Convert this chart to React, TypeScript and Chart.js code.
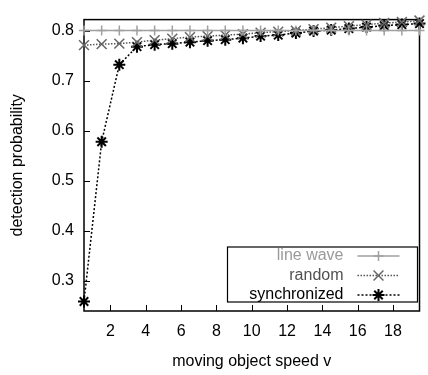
import React, { useEffect, useRef } from "react";
import { Chart, registerables } from "chart.js";

Chart.register(...registerables);

const speeds = [0.5, 1.5, 2.5, 3.5, 4.5, 5.5, 6.5, 7.5, 8.5, 9.5, 10.5, 11.5, 12.5, 13.5, 14.5, 15.5, 16.5, 17.5, 18.5, 19.5];
const lineWave = [0.8, 0.8, 0.8, 0.8, 0.8, 0.8, 0.8, 0.8, 0.8, 0.8, 0.8, 0.8, 0.8, 0.8, 0.8, 0.8, 0.8, 0.8, 0.8, 0.8];
const random = [0.771, 0.773, 0.774, 0.777, 0.781, 0.784, 0.787, 0.789, 0.791, 0.793, 0.796, 0.798, 0.8, 0.803, 0.806, 0.809, 0.812, 0.815, 0.817, 0.82];
const synchronized = [0.259, 0.578, 0.732, 0.768, 0.772, 0.774, 0.777, 0.78, 0.782, 0.785, 0.789, 0.791, 0.795, 0.799, 0.801, 0.804, 0.807, 0.81, 0.812, 0.814];
const xTicks = [2, 4, 6, 8, 10, 12, 14, 16, 18];
const yTicks = [0.3, 0.4, 0.5, 0.6, 0.7, 0.8];

const FONT = "'Liberation Sans', Arial, sans-serif";

const legendColors = ["#9a9a9a", "#505050", "#000000"];

function drawMarker(ctx: CanvasRenderingContext2D, style: string, x: number, y: number, r: number) {
  ctx.beginPath();
  if (style === "cross" || style === "star") {
    ctx.moveTo(x - r, y);
    ctx.lineTo(x + r, y);
    ctx.moveTo(x, y - r);
    ctx.lineTo(x, y + r);
  }
  if (style === "crossRot" || style === "star") {
    const d = r * Math.SQRT1_2;
    ctx.moveTo(x - d, y - d);
    ctx.lineTo(x + d, y + d);
    ctx.moveTo(x - d, y + d);
    ctx.lineTo(x + d, y - d);
  }
  ctx.stroke();
}

const framePlugin = {
  id: "gnuFrame",
  beforeDatasetsDraw(chart: any) {
    const { ctx, chartArea: a, scales } = chart;
    ctx.save();
    ctx.strokeStyle = "#000";
    ctx.lineWidth = 1.5;
    ctx.strokeRect(a.left, a.top, a.right - a.left, a.bottom - a.top);
    ctx.lineWidth = 1;
    ctx.beginPath();
    for (const v of yTicks) {
      const y = Math.round(scales.y.getPixelForValue(v)) + 0.5;
      ctx.moveTo(a.left, y);
      ctx.lineTo(a.left + 6, y);
    }
    for (const v of xTicks) {
      const x = Math.round(scales.x.getPixelForValue(v)) + 0.5;
      ctx.moveTo(x, a.bottom);
      ctx.lineTo(x, a.bottom - 6);
    }
    ctx.stroke();
    ctx.restore();
  },
};

const legendPlugin = {
  id: "gnuLegend",
  afterDraw(chart: any) {
    const { ctx, chartArea: a } = chart;
    const right = a.right - 2;
    const bottom = a.bottom - 9;
    const left = right - 190;
    const top = bottom - 55;
    ctx.save();
    ctx.fillStyle = "#fff";
    ctx.fillRect(left, top, right - left, bottom - top);
    ctx.strokeStyle = "#000";
    ctx.lineWidth = 1.2;
    ctx.strokeRect(left, top, right - left, bottom - top);
    ctx.font = `16px ${FONT}`;
    ctx.textAlign = "right";
    ctx.textBaseline = "middle";
    chart.data.datasets.forEach((ds: any, i: number) => {
      const y = top + 9 + i * 19.5;
      ctx.fillStyle = legendColors[i];
      ctx.fillText(ds.label, left + 116, y);
      ctx.strokeStyle = ds.borderColor;
      ctx.lineWidth = ds.borderWidth;
      ctx.setLineDash(ds.borderDash || []);
      ctx.beginPath();
      ctx.moveTo(left + 130, y);
      ctx.lineTo(left + 172, y);
      ctx.stroke();
      ctx.setLineDash([]);
      ctx.strokeStyle = ds.pointBorderColor;
      ctx.lineWidth = ds.pointBorderWidth;
      drawMarker(ctx, ds.pointStyle, left + 151, y, ds.pointRadius);
    });
    ctx.restore();
  },
};

export default function App() {
  const ref = useRef<HTMLCanvasElement>(null);
  useEffect(() => {
    const chart = new Chart(ref.current as HTMLCanvasElement, {
      type: "line",
      data: {
        datasets: [
          {
            label: "line wave",
            data: speeds.map((x, i) => ({ x, y: lineWave[i] })),
            borderColor: "#a0a0a0",
            borderWidth: 1.5,
            pointStyle: "cross",
            pointRadius: 5,
            pointBorderColor: "#a0a0a0",
            pointBorderWidth: 1.5,
            pointBackgroundColor: "#a0a0a0",
            clip: false,
          } as any,
          {
            label: "random",
            data: speeds.map((x, i) => ({ x, y: random[i] })),
            borderColor: "#555555",
            borderWidth: 1.5,
            borderDash: [1.5, 1.5],
            pointStyle: "crossRot",
            pointRadius: 7,
            pointBorderColor: "#666666",
            pointBorderWidth: 1.5,
            pointBackgroundColor: "#666666",
            clip: false,
          } as any,
          {
            label: "synchronized",
            data: speeds.map((x, i) => ({ x, y: synchronized[i] })),
            borderColor: "#000000",
            borderWidth: 1.5,
            borderDash: [2, 2],
            pointStyle: "star",
            pointRadius: 6,
            pointBorderColor: "#000000",
            pointBorderWidth: 2,
            pointBackgroundColor: "#000000",
            clip: false,
          } as any,
        ],
      },
      options: {
        responsive: false,
        animation: false,
        layout: { padding: { top: 9, right: 1, left: 0, bottom: 0 } },
        plugins: { legend: { display: false }, tooltip: { enabled: false } },
        scales: {
          x: {
            type: "linear",
            min: 0.5,
            max: 19.5,
            grid: { display: false, drawTicks: false },
            border: { display: false },
            afterBuildTicks: (s: any) => {
              s.ticks = xTicks.map((v) => ({ value: v }));
            },
            afterFit: (s: any) => {
              s.height = 64;
            },
            ticks: { font: { size: 16, family: FONT }, color: "#000", padding: 11, autoSkip: false, maxRotation: 0 },
            title: {
              display: true,
              text: "moving object speed v",
              font: { size: 16, family: FONT },
              color: "#000",
              padding: { top: 0, bottom: 4 },
            },
          },
          y: {
            type: "linear",
            min: 0.24,
            max: 0.822,
            grid: { display: false, drawTicks: false },
            border: { display: false },
            afterBuildTicks: (s: any) => {
              s.ticks = yTicks.map((v) => ({ value: v }));
            },
            afterFit: (s: any) => {
              s.width = 84;
            },
            ticks: { font: { size: 16, family: FONT }, color: "#000", padding: 10, callback: (v: any) => Number(v).toFixed(1) },
            title: {
              display: true,
              text: "detection probability",
              font: { size: 16, family: FONT },
              color: "#000",
              padding: { top: 8, bottom: 0 },
            },
          },
        },
      } as any,
      plugins: [framePlugin, legendPlugin],
    });
    return () => chart.destroy();
  }, []);
  return (
    <div style={{ position: "fixed", left: 0, top: 0, width: 428, height: 375, background: "#fff" }}>
      <canvas ref={ref} width={428} height={375} style={{ width: 428, height: 375, display: "block" }} />
    </div>
  );
}
